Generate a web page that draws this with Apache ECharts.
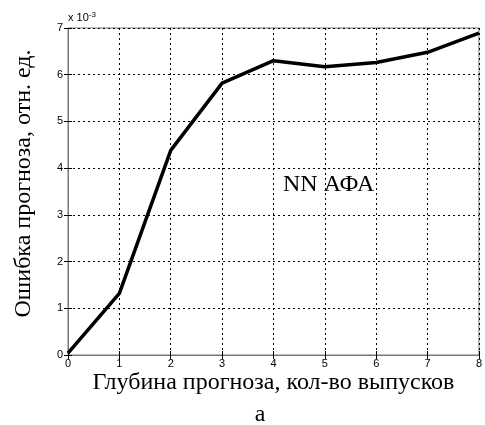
<!DOCTYPE html>
<html>
<head>
<meta charset="utf-8">
<script src="https://cdn.jsdelivr.net/npm/echarts@6/dist/echarts.min.js"></script>
<style>html,body{margin:0;padding:0;background:#fff}#c{width:485px;height:425px}</style>
</head>
<body>
<div id="c"></div>
<script>
var depth = [0, 1, 2, 3, 4, 5, 6, 7, 8];
var errorE3 = [0.04, 1.32, 4.38, 5.82, 6.3, 6.17, 6.26, 6.48, 6.89];
var xTicks = [0, 1, 2, 3, 4, 5, 6, 7, 8];
var yTicks = [0, 1, 2, 3, 4, 5, 6, 7];
var xName = 'Глубина прогноза, кол-во выпусков';
var yName = 'Ошибка прогноза, отн. ед.';
var seriesLabel = 'NN АФА';
var panelLabel = 'а';

var serif = '"Liberation Serif","Times New Roman",serif';
var sans = '"Liberation Sans",Arial,sans-serif';
var chart = echarts.init(document.getElementById('c'));
var data = depth.map(function (d, i) { return [d, errorE3[i]]; });
var tickStyle = { show: true, inside: true, length: 4, lineStyle: { color: '#000', width: 1 } };
chart.setOption({
  animation: false,
  grid: { left: 68, top: 28, right: 5, bottom: 70, show: true, borderColor: '#777', borderWidth: 1, backgroundColor: 'transparent' },
  xAxis: [{
    type: 'value', min: xTicks[0], max: xTicks[xTicks.length - 1], interval: 1,
    name: xName, nameLocation: 'middle', nameGap: 16, nameMoveOverlap: false,
    nameTextStyle: { fontFamily: serif, fontSize: 24, color: '#000' },
    axisLine: { show: true, lineStyle: { color: '#777' } },
    axisTick: tickStyle,
    axisLabel: { fontFamily: sans, fontSize: 11, color: '#000', margin: 3 },
    splitLine: { show: true, lineStyle: { color: '#000', type: [2, 3], width: 1 } }
  }, {
    type: 'value', position: 'top', min: xTicks[0], max: xTicks[xTicks.length - 1], interval: 1,
    axisLine: { show: false }, axisTick: tickStyle, axisLabel: { show: false }, splitLine: { show: false }
  }],
  yAxis: [{
    type: 'value', min: yTicks[0], max: yTicks[yTicks.length - 1], interval: 1,
    name: yName, nameLocation: 'middle', nameGap: 32, nameMoveOverlap: false,
    nameTextStyle: { fontFamily: serif, fontSize: 24, color: '#000', padding: [0, 0, 0, 16] },
    axisLine: { show: true, lineStyle: { color: '#777' } },
    axisTick: tickStyle,
    axisLabel: { fontFamily: sans, fontSize: 11, color: '#000', margin: 5 },
    splitLine: { show: true, lineStyle: { color: '#000', type: [2, 3], width: 1 } }
  }, {
    type: 'value', position: 'right', min: yTicks[0], max: yTicks[yTicks.length - 1], interval: 1,
    axisLine: { show: false }, axisTick: tickStyle, axisLabel: { show: false }, splitLine: { show: false }
  }],
  series: [{
    type: 'line', data: data, symbol: 'none',
    lineStyle: { color: '#000', width: 3.5 }
  }],
  graphic: [{
    type: 'text', left: 68, top: 11,
    style: {
      text: '{a|x 10}{b|-3}',
      rich: {
        a: { fontFamily: sans, fontSize: 11, fill: '#000' },
        b: { fontFamily: sans, fontSize: 8, fill: '#000', verticalAlign: 'top', padding: [0, 0, 6, 0] }
      }
    }
  }, {
    type: 'text', left: 283, top: 173,
    style: { text: seriesLabel, fontFamily: serif, fontSize: 24, fill: '#000' }
  }, {
    type: 'text', x: 260, y: 415,
    style: { text: panelLabel, fontFamily: serif, fontSize: 24, fill: '#000', align: 'center', verticalAlign: 'middle' }
  }]
});
</script>
</body>
</html>
